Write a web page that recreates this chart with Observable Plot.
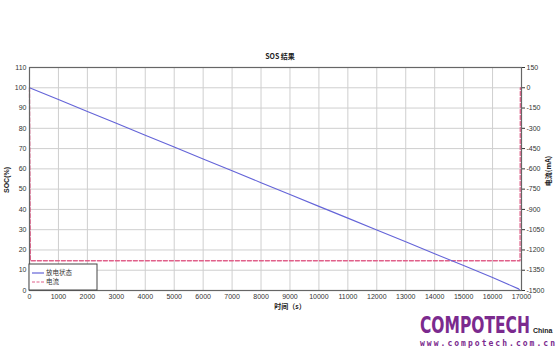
<!DOCTYPE html>
<html><head><meta charset="utf-8">
<script src="https://cdn.jsdelivr.net/npm/d3@7"></script>
<script src="https://cdn.jsdelivr.net/npm/@observablehq/plot@0.6"></script>
<style>body{margin:0;background:#fff}svg{display:block}</style>
</head><body><div id="chart"></div>
<script>
// SOC (%) over time (s)
const socTime = [0,1000,2000,3000,4000,5000,6000,7000,8000,9000,10000,11000,12000,13000,14000,15000,16000,16900,16950];
const socValue = [100,94.2,88.3,82.5,76.6,70.8,64.9,59.1,53.2,47.4,41.5,35.7,29.8,24.0,18.1,12.3,6.4,0.8,0];
// Current (mA) over time (s)
const curTime = [0,30,16950,16960];
const curValue = [0,-1280,-1280,0];
const xTicks = d3.range(0,17001,1000);
const socTicks = d3.range(0,111,10);
const curTicks = [150,0,-150,-300,-450,-600,-750,-900,-1050,-1200,-1350,-1500];
const title = "SOS 结果";
const xLabel = "时间（s）";
const yLabel = "SOC(%)";
const y2Label = "电流(mA)";
const legendLabels = ["放电状态","电流"];

const toY = i => (i + 1500) / 15; // current -> SOC-axis units
const fromY = y => String(Math.round(y * 15 - 1500));

const soc = socTime.map((t,i)=>({t, v: socValue[i]}));
const cur = curTime.map((t,i)=>({t, v: toY(curValue[i])}));

const blue = "#6464d8", pink = "#e0608a";
const font = "'Liberation Sans', Arial, sans-serif";

const chart = Plot.plot({
  width: 560, height: 351,
  marginLeft: 29, marginRight: 39, marginTop: 67, marginBottom: 61,
  style: {fontFamily: font, fontSize: "7px", color: "#333", background: "#fff"},
  x: {domain: [0,17000]},
  y: {domain: [0,110]},
  marks: [
    Plot.gridX(xTicks, {stroke: "#cfcfcf", strokeOpacity: 1}),
    Plot.gridY(socTicks, {stroke: "#cfcfcf", strokeOpacity: 1}),
    Plot.axisX(xTicks, {tickSize: 0, tickPadding: 4, label: null, fontSize: 7, tickFormat: d => String(d)}),
    Plot.axisY(socTicks, {anchor: "left", tickSize: 0, tickPadding: 3, label: null, fontSize: 7, tickFormat: d => String(d)}),
    Plot.axisY(curTicks.map(toY), {anchor: "right", tickSize: 3, tickPadding: 2, label: null, fontSize: 7, tickFormat: fromY}),
    Plot.line(cur, {x: "t", y: "v", stroke: pink, strokeWidth: 1.3, strokeDasharray: "4,2"}),
    Plot.line(soc, {x: "t", y: "v", stroke: blue, strokeWidth: 1.1}),
    Plot.frame({stroke: "#666", strokeWidth: 1.2})
  ]
});
document.getElementById("chart").append(chart);
const svg = d3.select(chart);
const cjk = "'Noto Sans CJK SC', sans-serif";
svg.append("text").attr("x", 280).attr("y", 59).attr("text-anchor","middle")
  .attr("font-family", cjk).attr("font-size", 7).attr("font-weight","bold").attr("fill","#222").text(title);
svg.append("text").attr("x", 290).attr("y", 309).attr("text-anchor","middle")
  .attr("font-family", cjk).attr("font-size", 7).attr("font-weight","bold").attr("fill","#222").text(xLabel);
svg.append("text").attr("transform","translate(9,180) rotate(-90)").attr("text-anchor","middle")
  .attr("font-family", font).attr("font-size", 7).attr("font-weight","bold").attr("fill","#222").text(yLabel);
svg.append("text").attr("transform","translate(551,171) rotate(-90)").attr("text-anchor","middle")
  .attr("font-family", cjk).attr("font-size", 7).attr("font-weight","bold").attr("fill","#222").text(y2Label);
// legend
const lg = svg.append("g").attr("text-anchor","start");
lg.append("rect").attr("x",29).attr("y",264).attr("width",68).attr("height",26)
  .attr("fill","#fff").attr("stroke","#444").attr("stroke-width",1);
[[blue,null,273],[pink,"3,1.5",282]].forEach(([c,d,y],i)=>{
  lg.append("line").attr("x1",32).attr("x2",44).attr("y1",y).attr("y2",y)
    .attr("stroke",c).attr("stroke-width",1.2).attr("stroke-dasharray",d);
  lg.append("text").attr("x",46).attr("y",y+2.3).attr("font-family",cjk).attr("font-size",6.5)
    .attr("fill","#333").text(legendLabels[i]);
});
// watermark logo
const logo = svg.append("g").attr("text-anchor","start");
const big = logo.append("text").attr("x",0).attr("y",0).attr("font-family","'Liberation Sans Narrow','DejaVu Sans Condensed',sans-serif")
  .attr("font-size",23).attr("font-weight","bold").attr("fill","#7b2a8e").text("COMPOTECH");
const w = big.node().getComputedTextLength() || 110;
big.attr("transform", `translate(420,333) scale(${110 / w},1)`);
logo.append("text").attr("x",533).attr("y",333).attr("font-family",font).attr("font-size",7).attr("font-weight","bold").attr("fill","#222").text("China");
logo.append("text").attr("x",420).attr("y",346).attr("font-family","'DejaVu Sans Mono',monospace")
  .attr("font-size",8).attr("font-weight","bold").attr("fill","#7b2a8e").attr("textLength",135).attr("lengthAdjust","spacing").text("www.compotech.com.cn");
</script></body></html>
